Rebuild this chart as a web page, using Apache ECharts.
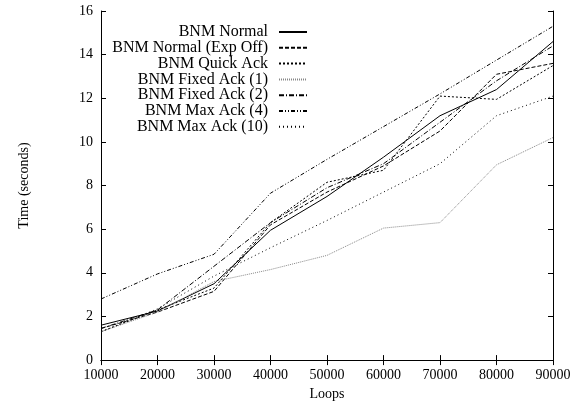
<!DOCTYPE html>
<html>
<head>
<meta charset="utf-8">
<script src="https://cdn.jsdelivr.net/npm/echarts@6/dist/echarts.min.js"></script>
<style>
html, body { margin: 0; padding: 0; background: #fff; }
#main { width: 584px; height: 406px; }
</style>
</head>
<body>
<div id="main"></div>
<script>
// loops on the x axis
var loops = [10000, 20000, 30000, 40000, 50000, 60000, 70000, 80000, 90000];
// time in seconds
var bnmNormal = [1.6, 2.25, 3.5, 5.95, 7.5, 9.3, 11.2, 12.4, 14.6];
var bnmNormalExpOff = [1.45, 2.2, 3.15, 6.2, 7.7, 8.9, 10.5, 13.1, 13.6];
var bnmQuickAck = [1.3, 2.3, 3.3, 6.3, 8.15, 8.7, 12.1, 11.95, 13.5];
var bnmFixedAck1 = [1.3, 2.2, 3.6, 4.15, 4.8, 6.05, 6.3, 8.95, 10.2];
var bnmFixedAck2 = [1.45, 2.3, 4.3, 6.3, 7.9, 9.0, 10.9, 12.8, 14.4];
var bnmMaxAck4 = [2.8, 3.95, 4.85, 7.65, 9.2, 10.7, 12.2, 13.75, 15.3];
var bnmMaxAck10 = [1.3, 2.35, 3.85, 5.15, 6.4, 7.7, 9.0, 11.2, 12.1];

var font = 'Liberation Serif';
var chart = echarts.init(document.getElementById('main'));

function pairs(arr) {
    return loops.map(function (x, i) { return [x, arr[i]]; });
}

var seriesDefs = [
    { name: 'BNM Normal', data: bnmNormal, color: '#000', type: 'solid' },
    { name: 'BNM Normal (Exp Off)', data: bnmNormalExpOff, color: '#000', type: [4, 2] },
    { name: 'BNM Quick Ack', data: bnmQuickAck, color: '#000', type: [2, 2] },
    { name: 'BNM Fixed Ack (1)', data: bnmFixedAck1, color: '#888', type: [1, 1] },
    { name: 'BNM Fixed Ack (2)', data: bnmFixedAck2, color: '#000', type: [5, 2, 1, 2] },
    { name: 'BNM Max Ack (4)', data: bnmMaxAck4, color: '#000', type: [4, 2, 1, 2, 1, 2] },
    { name: 'BNM Max Ack (10)', data: bnmMaxAck10, color: '#000', type: [1, 3] }
];

// one legend per row so the texts line up on the right
var legends = seriesDefs.map(function (s, i) {
    return {
        data: [s.name],
        orient: 'vertical',
        align: 'right',
        right: 276,
        top: 24 + i * 15.8,
        padding: 0,
        itemWidth: 28,
        itemHeight: 16,
        selectedMode: false,
        itemStyle: { opacity: 0, borderWidth: 0 },
        textStyle: { fontFamily: font, fontSize: 16, color: '#000', padding: [0, 6, 0, 0] }
    };
});

var axisLabel = {
    fontFamily: font, fontSize: 14, color: '#000',
    formatter: function (v) { return String(v); }
};

var option = {
    animation: false,
    backgroundColor: '#fff',
    grid: { left: 101, right: 31, top: 11, bottom: 42 },
    legend: legends,
    xAxis: [{
        type: 'value', min: 10000, max: 90000, interval: 10000,
        name: 'Loops', nameLocation: 'middle', nameGap: 26,
        nameTextStyle: { fontFamily: font, fontSize: 14, color: '#000' },
        axisLine: { lineStyle: { color: '#000', width: 1 } },
        axisTick: { inside: true, length: 5, lineStyle: { color: '#000' } },
        axisLabel: axisLabel,
        splitLine: { show: false }
    }, {
        type: 'value', position: 'top', min: 10000, max: 90000, interval: 10000,
        axisLine: { lineStyle: { color: '#000', width: 1 } },
        axisTick: { inside: true, length: 5, lineStyle: { color: '#000' } },
        axisLabel: { show: false },
        splitLine: { show: false }
    }],
    yAxis: [{
        type: 'value', min: 0, max: 16, interval: 2,
        name: 'Time (seconds)', nameLocation: 'middle', nameGap: 70,
        nameTextStyle: { fontFamily: font, fontSize: 14, color: '#000' },
        axisLine: { show: true, lineStyle: { color: '#000', width: 1 } },
        axisTick: { show: true, inside: true, length: 5, lineStyle: { color: '#000' } },
        axisLabel: axisLabel,
        splitLine: { show: false }
    }, {
        type: 'value', position: 'right', min: 0, max: 16, interval: 2,
        axisLine: { show: true, lineStyle: { color: '#000', width: 1 } },
        axisTick: { show: true, inside: true, length: 5, lineStyle: { color: '#000' } },
        axisLabel: { show: false },
        splitLine: { show: false }
    }],
    series: seriesDefs.map(function (s) {
        return {
            name: s.name,
            type: 'line',
            data: pairs(s.data),
            symbol: 'none',
            showSymbol: false,
            itemStyle: { color: s.color },
            lineStyle: { color: s.color, width: 1, type: s.type }
        };
    })
};

chart.setOption(option);
</script>
</body>
</html>
